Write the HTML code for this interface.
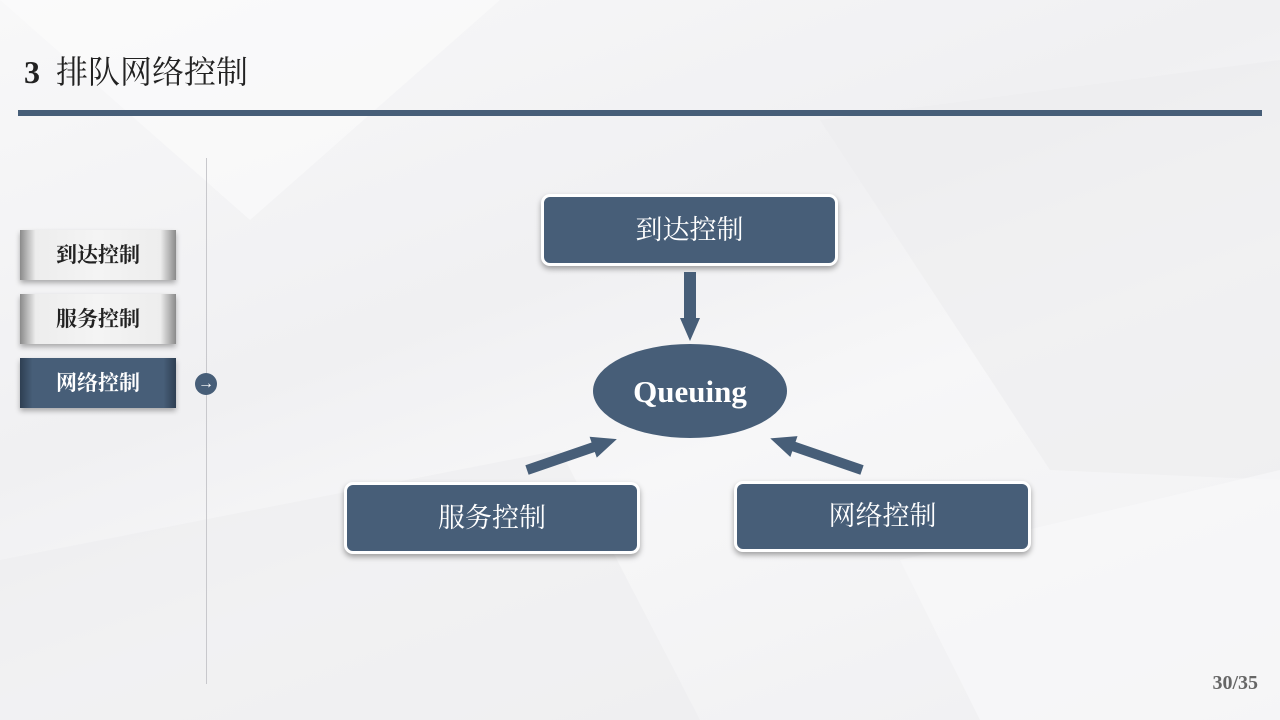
<!DOCTYPE html>
<html><head><meta charset="utf-8"><style>
body{margin:0;width:1280px;height:720px;overflow:hidden;position:relative;
background:linear-gradient(160deg,#f8f8f9 0%,#f0f0f2 40%,#f7f7f8 60%,#efeff1 100%);
font-family:"Liberation Serif","Noto Serif CJK SC",serif;}
.abs{position:absolute;}
.title{left:24px;top:52px;font-size:32px;color:#222;line-height:40px;}
.bar{left:18px;top:110px;width:1244px;height:6px;background:#475e78;}
.vline{left:206px;top:158px;width:1px;height:526px;background:#c8c8cc;}
.tab{left:20px;width:156px;height:50px;line-height:50px;text-align:center;font-size:21px;font-weight:bold;color:#222;
background:linear-gradient(90deg,#8a8a8a 0%,#ededed 10%,#f4f4f4 50%,#ededed 90%,#8a8a8a 100%);box-shadow:0 3px 5px rgba(0,0,0,.3);}
.tab.on{background:linear-gradient(90deg,#2e3f52 0%,#475e78 8%,#475e78 92%,#2e3f52 100%);color:#fff;}
.circ{left:195px;top:373px;width:22px;height:22px;border-radius:50%;background:#475e78;color:#fff;font-size:16px;line-height:21px;text-align:center;}
.box{background:#475e78;border:3px solid #fff;border-radius:9px;box-shadow:0 3px 6px rgba(0,0,0,.35);color:#fff;font-size:27px;text-align:center;box-sizing:border-box;}
.pg{right:22px;top:672px;font-size:20px;font-weight:bold;color:#666;}
</style></head><body>
<svg class="abs" style="left:0;top:0" width="1280" height="720">
<polygon points="0,0 500,0 250,220" fill="#fcfcfc" opacity=".6"/>
<polygon points="820,120 1280,60 1280,480 1050,470" fill="#ededef" opacity=".6"/>
<polygon points="0,560 560,450 700,720 0,720" fill="#ebebed" opacity=".5"/>
<polygon points="900,560 1280,470 1280,720 980,720" fill="#f8f8f9" opacity=".7"/>
</svg>
<div class="abs title"><b>3</b>&nbsp; 排队网络控制</div>
<div class="abs bar"></div>
<div class="abs vline"></div>
<div class="abs tab" style="top:230px">到达控制</div>
<div class="abs tab" style="top:294px">服务控制</div>
<div class="abs tab on" style="top:358px">网络控制</div>
<div class="abs circ">→</div>
<div class="abs box" style="left:541px;top:194px;width:297px;height:72px;line-height:66px">到达控制</div>
<div class="abs box" style="left:344px;top:482px;width:296px;height:72px;line-height:66px">服务控制</div>
<div class="abs box" style="left:734px;top:481px;width:297px;height:71px;line-height:65px">网络控制</div>
<svg class="abs" style="left:0;top:0" width="1280" height="720">
<ellipse cx="690" cy="391" rx="97" ry="47" fill="#475e78"/>
<text x="690" y="402" text-anchor="middle" font-family="Liberation Serif" font-weight="bold" font-size="31" fill="#fff">Queuing</text>
<polygon points="684,272 696,272 696,318 700,318 690,341 680,318 684,318" fill="#475e78"/>
<g transform="translate(527,470) rotate(-19)"><polygon points="0,-5 70,-5 70,-11 95,0 70,11 70,5 0,5" fill="#475e78"/></g>
<g transform="translate(862,470) rotate(199)"><polygon points="0,-5 72,-5 72,-11 97,0 72,11 72,5 0,5" fill="#475e78"/></g>
</svg>
<div class="abs pg">30/35</div>
</body></html>
